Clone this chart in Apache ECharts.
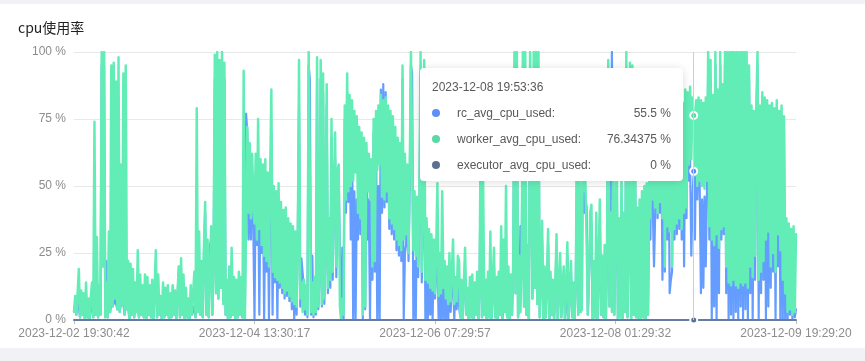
<!DOCTYPE html>
<html>
<head>
<meta charset="utf-8">
<script src="https://cdn.jsdelivr.net/npm/echarts@6/dist/echarts.min.js"></script>
<style>
  html, body { margin: 0; padding: 0; width: 865px; height: 361px; background: #f0f2f5; overflow: hidden; }
  #chart { position: absolute; left: 0; top: 4px; width: 865px; height: 344px; background: #ffffff; }
</style>
</head>
<body>
<div id="chart"></div>
<script>
// ---------- data ----------
const chartTitle = 'cpu使用率';
const seriesNames = ['rc_avg_cpu_used', 'worker_avg_cpu_used', 'executor_avg_cpu_used'];
const tickLabels = ['2023-12-02 19:30:42', '2023-12-04 13:30:17', '2023-12-06 07:29:57', '2023-12-08 01:29:32', '2023-12-09 19:29:20'];
const pointsPerTick = 150;
const hoverIndex = 515;
const hoverTime = '2023-12-08 19:53:36';
const yTicks = [0, 25, 50, 75, 100];

const workerValues = [
3,9,2,10,19,1,11,2,10,0,
14,1,8,0,9,14,1,74,2,31,
1,13,2,100,20,100,1,14,1,33,
3,95,5,96,8,89,4,98,3,58,
6,92,2,95,4,22,0,21,2,19,
1,14,3,26,1,17,2,13,1,17,
0,16,2,13,1,15,0,12,26,1,
17,2,9,0,14,1,12,2,13,0,
10,1,13,2,11,0,9,20,1,23,
2,17,0,12,1,8,0,13,2,10,
18,1,79,3,33,2,22,1,28,44,
2,30,1,18,35,2,25,99,10,100,
8,97,12,100,6,96,2,15,0,20,
1,27,2,16,0,15,1,18,2,16,
1,93,0,0,72,40,66,38,62,42,
36,62,30,75,34,60,28,58,24,60,
22,55,20,52,86,18,50,16,48,15,
51,14,44,12,41,10,42,11,38,9,
36,7,35,6,33,5,31,97,8,14,
3,15,4,13,2,100,100,3,14,2,
16,3,98,5,18,97,6,92,8,28,
88,12,38,15,75,18,50,70,20,56,
58,5,0,8,2,80,45,92,48,84,
50,82,52,78,55,76,40,72,38,70,
2,68,5,66,48,62,45,60,20,75,
22,78,56,80,58,84,46,82,45,83,
48,80,38,78,36,76,34,72,30,68,
28,66,26,95,30,62,32,58,25,56,
100,100,26,48,24,46,20,44,100,18,
40,97,15,38,14,34,12,32,11,30,
10,27,51,9,25,10,48,12,22,8,
20,6,25,7,18,30,6,16,7,24,
22,1,15,0,14,27,2,12,0,16,
1,17,0,14,2,18,0,12,74,1,
52,2,15,0,18,1,33,0,14,27,
1,16,0,18,2,35,0,30,3,50,
1,20,0,17,2,22,100,10,100,1,
24,3,20,100,5,100,2,28,0,100,
100,8,100,12,100,6,100,1,18,37,
0,20,1,16,34,0,18,2,15,0,
14,32,0,12,25,1,13,20,0,11,
29,0,12,22,1,14,0,16,70,2,
60,3,4,85,48,52,30,2,18,40,
43,0,22,1,40,0,20,45,2,24,
1,28,0,30,97,5,40,3,60,2,
2,70,0,38,1,55,0,40,3,100,
1,36,96,0,95,2,93,1,42,0,
45,0,48,1,50,0,51,2,52,38,
86,45,84,42,87,40,85,44,83,38,
86,20,84,35,82,33,85,20,83,34,
84,36,82,38,85,34,81,40,86,42,
85,58,87,60,83,76.34375,54,82,50,83,
52,82,50,81,49,83,52,100,35,97,
30,84,28,100,32,86,27,100,34,88,
35,100,20,100,14,100,13,100,15,100,
13,100,12,100,14,100,13,100,14,100,
12,95,20,80,16,78,24,79,100,15,
80,18,85,22,83,30,82,33,80,20,
81,25,79,18,82,32,78,26,80,15,
76,10,38,3,36,4,34,2,35,3,32
];

const rcValues = [
3,6,2,7,5,1,6,2,5,0,
6,1,5,0,6,5,1,6,2,5,
1,6,2,95,20,95,1,22,1,6,
3,6,5,6,8,6,4,6,3,6,
6,6,2,6,4,5,0,5,2,5,
1,5,3,5,1,5,2,5,1,5,
0,5,2,5,1,5,0,12,20,1,
5,2,5,0,5,1,5,2,5,0,
5,1,5,2,5,0,9,18,1,6,
2,5,0,5,1,5,0,5,2,5,
5,1,6,3,6,2,5,1,25,40,
2,6,1,28,30,2,24,90,10,90,
8,90,12,90,6,90,2,6,0,6,
1,6,2,6,0,6,1,6,2,6,
1,4,0,77,70,30,62,30,58,35,
0,55,28,60,2,50,25,52,0,48,
18,50,0,45,70,2,44,14,40,0,
40,12,38,10,36,8,34,9,30,7,
30,4,28,0,28,2,34,80,5,23,
23,12,2,10,1,95,90,2,24,1,
12,2,90,4,15,90,5,85,6,24,
80,10,32,12,68,15,45,60,16,50,
52,24,0,27,0,75,40,85,44,80,
30,78,0,48,0,45,30,68,32,65,
0,62,4,60,30,45,0,55,15,70,
18,72,0,50,0,86,40,88,42,85,
44,75,34,72,32,70,30,66,26,62,
24,60,22,90,0,25,28,52,22,50,
95,92,0,22,0,40,16,38,92,14,
34,90,0,16,0,30,2,16,0,26,
8,20,25,0,18,0,22,0,15,0,
12,0,15,3,12,18,0,12,4,15,
5,1,5,0,12,20,2,5,0,5,
1,5,0,5,2,5,0,12,60,1,
5,2,5,0,5,1,5,0,12,20,
1,5,0,5,2,5,0,5,3,5,
1,5,0,5,2,20,90,10,90,1,
5,35,18,90,5,90,2,6,0,90,
90,8,90,12,90,6,90,1,15,30,
0,5,1,14,28,0,5,2,5,0,
12,26,0,10,20,1,11,16,0,5,
24,0,10,18,1,5,0,14,60,2,
50,3,4,75,40,45,42,2,15,33,
36,0,5,1,5,0,17,38,2,5,
1,5,0,25,90,5,35,100,50,2,
2,55,0,30,1,45,0,32,3,90,
1,30,85,0,88,2,85,1,35,0,
38,0,40,1,42,0,44,2,45,30,
78,42,20,40,80,38,78,40,75,15,
78,18,76,30,75,10,15,18,76,30,
77,32,75,34,78,30,74,20,80,38,
78,52,60,24,45,55.5,30,72,45,76,
48,10,45,12,46,20,48,92,30,90,
0,78,5,95,0,80,10,95,30,85,
32,95,10,95,0,95,2,95,0,95,
3,95,0,95,5,95,0,95,4,95,
0,90,10,75,0,72,15,74,95,0,
76,10,80,15,78,0,78,5,75,12,
78,18,76,0,78,20,74,0,76,0,
72,0,30,0,28,2,30,0,25,1,4
];

const executorValues = [
0,0,0,0,0,0,0,0,0,0,0,0,0,0,0,0,0,0,0,0,0,0,0,0,0,0,0,0,0,0,0,0,0,0,0,0,0,0,0,0,0,0,0,0,0,0,0,0,0,0,
0,0,0,0,0,0,0,0,0,0,0,0,0,0,0,0,0,0,0,0,0,0,0,0,0,0,0,0,0,0,0,0,0,0,0,0,0,0,0,0,0,0,0,0,0,0,0,0,0,0,
0,0,0,0,0,0,0,0,0,0,0,0,0,0,0,0,0,0,0,0,0,0,0,0,0,0,0,0,0,0,0,0,0,0,0,0,0,0,0,0,0,0,0,0,0,0,0,0,0,0,
0,0,0,0,0,0,0,0,0,0,0,0,0,0,0,0,0,0,0,0,0,0,0,0,0,0,0,0,0,0,0,0,0,0,0,0,0,0,0,0,0,0,0,0,0,0,0,0,0,0,
0,0,0,0,0,0,0,0,0,0,0,0,0,0,0,0,0,0,0,0,0,0,0,0,0,0,0,0,0,0,0,0,0,0,0,0,0,0,0,0,0,0,0,0,0,0,0,0,0,0,
0,0,0,0,0,0,0,0,0,0,0,0,0,0,0,0,0,0,0,0,0,0,0,0,0,0,0,0,0,0,0,0,0,0,0,0,0,0,0,0,0,0,0,0,0,0,0,0,0,0,
0,0,0,0,0,0,0,0,0,0,0,0,0,0,0,0,0,0,0,0,0,0,0,0,0,0,0,0,0,0,0,0,0,0,0,0,0,0,0,0,0,0,0,0,0,0,0,0,0,0,
0,0,0,0,0,0,0,0,0,0,0,0,0,0,0,0,0,0,0,0,0,0,0,0,0,0,0,0,0,0,0,0,0,0,0,0,0,0,0,0,0,0,0,0,0,0,0,0,0,0,
0,0,0,0,0,0,0,0,0,0,0,0,0,0,0,0,0,0,0,0,0,0,0,0,0,0,0,0,0,0,0,0,0,0,0,0,0,0,0,0,0,0,0,0,0,0,0,0,0,0,
0,0,0,0,0,0,0,0,0,0,0,0,0,0,0,0,0,0,0,0,0,0,0,0,0,0,0,0,0,0,0,0,0,0,0,0,0,0,0,0,0,0,0,0,0,0,0,0,0,0,
0,0,0,0,0,0,0,0,0,0,0,0,0,0,0,0,0,0,0,0,0,0,0,0,0,0,0,0,0,0,0,0,0,0,0,0,0,0,0,0,0,0,0,0,0,0,0,0,0,0,
0,0,0,0,0,0,0,0,0,0,0,0,0,0,0,0,0,0,0,0,0,0,0,0,0,0,0,0,0,0,0,0,0,0,0,0,0,0,0,0,0,0,0,0,0,0,0,0,0,0,
0
];

const colors = ['#5B8FF9', '#5AD8A6', '#5D7092'];

// ---------- categories (time stamps between the labelled ticks) ----------
function parseTime(s) {
  const m = s.match(/(\d+)-(\d+)-(\d+) (\d+):(\d+):(\d+)/);
  return Date.UTC(+m[1], +m[2] - 1, +m[3], +m[4], +m[5], +m[6]);
}
function pad(n) { return (n < 10 ? '0' : '') + n; }
function fmtTime(t) {
  const d = new Date(t);
  return d.getUTCFullYear() + '-' + pad(d.getUTCMonth() + 1) + '-' + pad(d.getUTCDate()) + ' ' +
    pad(d.getUTCHours()) + ':' + pad(d.getUTCMinutes()) + ':' + pad(d.getUTCSeconds());
}
const categories = [];
for (let k = 0; k < tickLabels.length - 1; k++) {
  const a = parseTime(tickLabels[k]), b = parseTime(tickLabels[k + 1]);
  for (let j = 0; j < pointsPerTick; j++) {
    categories.push(j === 0 ? tickLabels[k] : fmtTime(Math.round((a + (b - a) * j / pointsPerTick) / 1000) * 1000));
  }
}
categories.push(tickLabels[tickLabels.length - 1]);
categories[hoverIndex] = hoverTime;

// ---------- chart ----------
const chart = echarts.init(document.getElementById('chart'), null, { renderer: 'canvas' });
const FONT = "'Liberation Sans', Arial, sans-serif";

function makeSeries(i, values, width) {
  return {
    name: seriesNames[i],
    type: 'line',
    data: values,
    showSymbol: false,
    symbol: 'circle',
    symbolSize: 7,
    animation: false,
    lineStyle: { width: width, color: colors[i], join: 'round', cap: 'round' },
    itemStyle: { color: colors[i], borderColor: '#ffffff', borderWidth: 2 },
    emphasis: { scale: false, lineStyle: { width: width } }
  };
}

chart.setOption({
  animation: false,
  color: colors,
  title: {
    text: chartTitle, left: 13, top: 12,
    textStyle: { fontSize: 14, fontWeight: 'normal', color: '#1f1f1f', fontFamily: "'Noto Sans CJK SC', sans-serif" }
  },
  grid: { left: 74, right: 69, top: 48, bottom: 28, containLabel: false },
  tooltip: {
    trigger: 'axis',
    alwaysShowContent: true,
    transitionDuration: 0,
    backgroundColor: '#ffffff',
    borderWidth: 0,
    padding: [9, 12, 6, 12],
    extraCssText: 'box-shadow: 0 1px 8px rgba(0,0,0,0.14); border-radius: 4px;',
    axisPointer: { type: 'line', animation: false, lineStyle: { color: '#cfcfcf', width: 1, type: 'solid' } },
    position: function (point, params, dom, rect, size) {
      return [point[0] - size.contentSize[0] - 11, 64];
    },
    formatter: function (params) {
      let html = '<div style="width:239px;font-family:' + FONT.replace(/"/g, '') + ';font-size:12px;color:#595959;">';
      html += '<div style="line-height:20px;">' + params[0].axisValue + '</div>';
      params.forEach(function (p) {
        html += '<div style="display:flex;align-items:center;line-height:20px;margin-top:6px;">' +
          '<span style="display:inline-block;width:8px;height:8px;border-radius:50%;background:' + p.color + ';margin-right:17px;"></span>' +
          '<span style="flex:1;">' + p.seriesName + ':</span><span>' + p.value + ' %</span></div>';
      });
      return html + '</div>';
    }
  },
  xAxis: {
    type: 'category',
    data: categories,
    boundaryGap: false,
    axisLine: { show: true, lineStyle: { color: '#d9d9d9' } },
    axisTick: { show: true, interval: pointsPerTick - 1, length: 4, lineStyle: { color: '#bfbfbf' } },
    axisLabel: { interval: pointsPerTick - 1, color: '#8c8c8c', fontSize: 12, fontFamily: FONT, margin: 8 },
    splitLine: { show: false }
  },
  yAxis: {
    type: 'value',
    min: yTicks[0],
    max: yTicks[yTicks.length - 1],
    interval: yTicks[1] - yTicks[0],
    axisLine: { show: false },
    axisTick: { show: false },
    axisLabel: { formatter: '{value} %', color: '#8c8c8c', fontSize: 12, fontFamily: FONT, margin: 8 },
    splitLine: { lineStyle: { color: '#e8e8e8' } }
  },
  series: [
    makeSeries(0, rcValues, 2.2),
    makeSeries(1, workerValues, 2.5),
    makeSeries(2, executorValues, 2)
  ]
});

chart.dispatchAction({ type: 'showTip', seriesIndex: 0, dataIndex: hoverIndex });
</script>
</body>
</html>
